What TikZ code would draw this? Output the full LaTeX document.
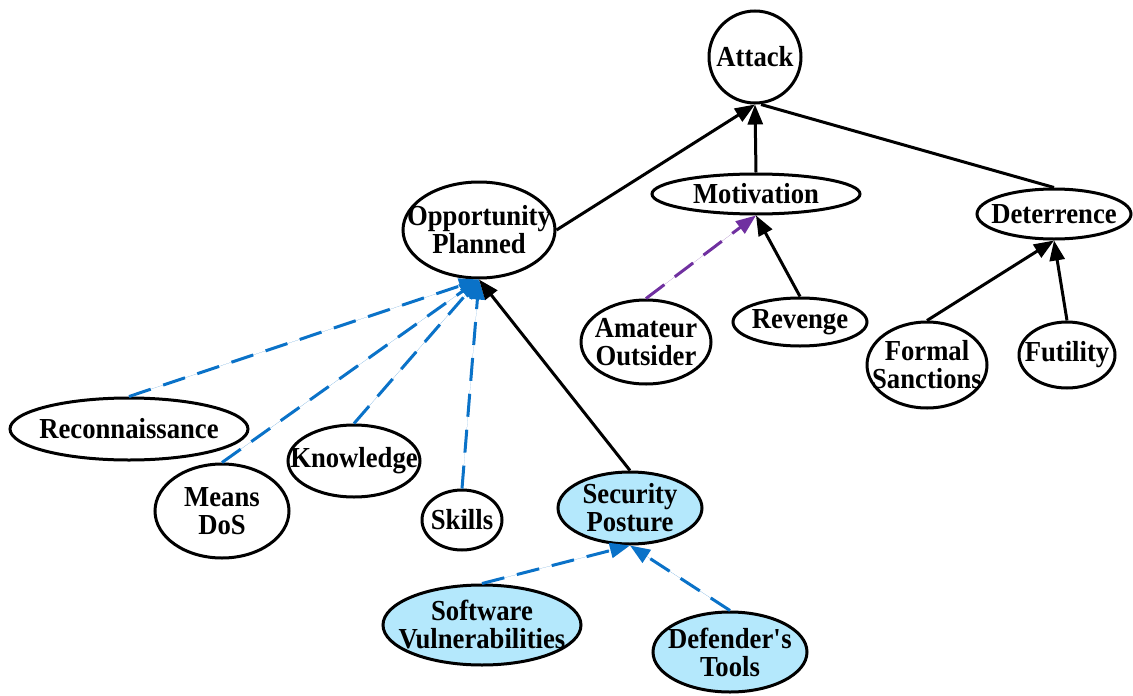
\documentclass[tikz,border=0pt]{standalone}
\usepackage{fontspec}
\setmainfont{Liberation Serif}[FakeStretch=0.92]
\usetikzlibrary{shapes.geometric,arrows.meta}
\definecolor{linkblue}{RGB}{10,114,200}
\definecolor{linkpurple}{RGB}{112,48,160}
\definecolor{nodefill}{RGB}{180,232,252}
\tikzset{
  % ellipse of a fixed size; the text is set as a centred label
  ell/.style n args={3}{ellipse, draw=black, line width=3pt, inner sep=0pt,
    minimum width=#1pt, minimum height=#2pt,
    label={[lab]center:#3}},
  lab/.style={inner sep=0pt, align=center,
    font=\fontsize{29}{28}\selectfont\bfseries},
  hl/.style={fill=nodefill},
  tip/.style={-{Triangle[length=20pt,width=15pt]}},
  solidedge/.style={tip, line width=3pt, draw=black},
  blueedge/.style={tip, line width=3pt, draw=linkblue, fill=linkblue, dash pattern=on 23pt off 13pt},
  purpleedge/.style={tip, line width=3pt, draw=linkpurple, fill=linkpurple, dash pattern=on 23pt off 13pt},
  plainedge/.style={line width=3pt, draw=black}
}
\begin{document}
\begin{tikzpicture}[x=1pt,y=-1pt]
\useasboundingbox (0,0) rectangle (1133,696);

% top level
\node[ell={92}{92}{Attack}] (attack) at (755,57) {};
\node[ell={152}{96}{Opportunity\\Planned}] (opp) at (479,230) {};
\node[ell={208}{40}{Motivation}] (motiv) at (756,194) {};
\node[ell={154}{50}{Deterrence}] (deter) at (1054,214) {};

% motivation and deterrence factors
\node[ell={130}{84}{Amateur\\Outsider}] (amateur) at (646,342) {};
\node[ell={134}{48}{Revenge}] (revenge) at (800,322) {};
\node[ell={120}{86}{Formal\\Sanctions}] (formal) at (927,365) {};
\node[ell={96}{66}{Futility}] (futility) at (1067,355) {};

% opportunity factors
\node[ell={238}{62}{Reconnaissance}] (recon) at (129,429) {};
\node[ell={134}{94}{Means\\DoS}] (means) at (222,511) {};
\node[ell={132}{72}{Knowledge}] (know) at (354,461) {};
\node[ell={80}{60}{Skills}] (skills) at (462,520) {};
\node[ell={144}{72}{Security\\Posture}, hl] (secpost) at (630,508) {};
\node[ell={198}{80}{Software\\Vulnerabilities}, hl] (softvuln) at (482,625) {};
\node[ell={154}{80}{Defender\textquotesingle s\\Tools}, hl] (deftools) at (730,652) {};

% edges into Attack
\draw[solidedge] (opp.east) -- (attack.south);
\draw[solidedge] (motiv.north) -- (attack.south);
\draw[plainedge] (deter.north) -- ([xshift=6pt]attack.south);

% edges into Motivation and Deterrence
\draw[purpleedge] (amateur.north) -- (motiv.south);
\draw[solidedge] (revenge.north) -- (motiv.south);
\draw[solidedge] (formal.north) -- (deter.south);
\draw[solidedge] (futility.north) -- (deter.south);

% edges into Opportunity Planned
\draw[blueedge] (recon.north) -- (opp.south);
\draw[blueedge] (means.north) -- (opp.south);
\draw[blueedge] (know.north) -- (opp.south);
\draw[blueedge] (skills.north) -- (opp.south);
\draw[solidedge] (secpost.north) -- (opp.south);

% edges into Security Posture
\draw[blueedge] (softvuln.north) -- (secpost.south);
\draw[blueedge] (deftools.north) -- (secpost.south);
\end{tikzpicture}
\end{document}
